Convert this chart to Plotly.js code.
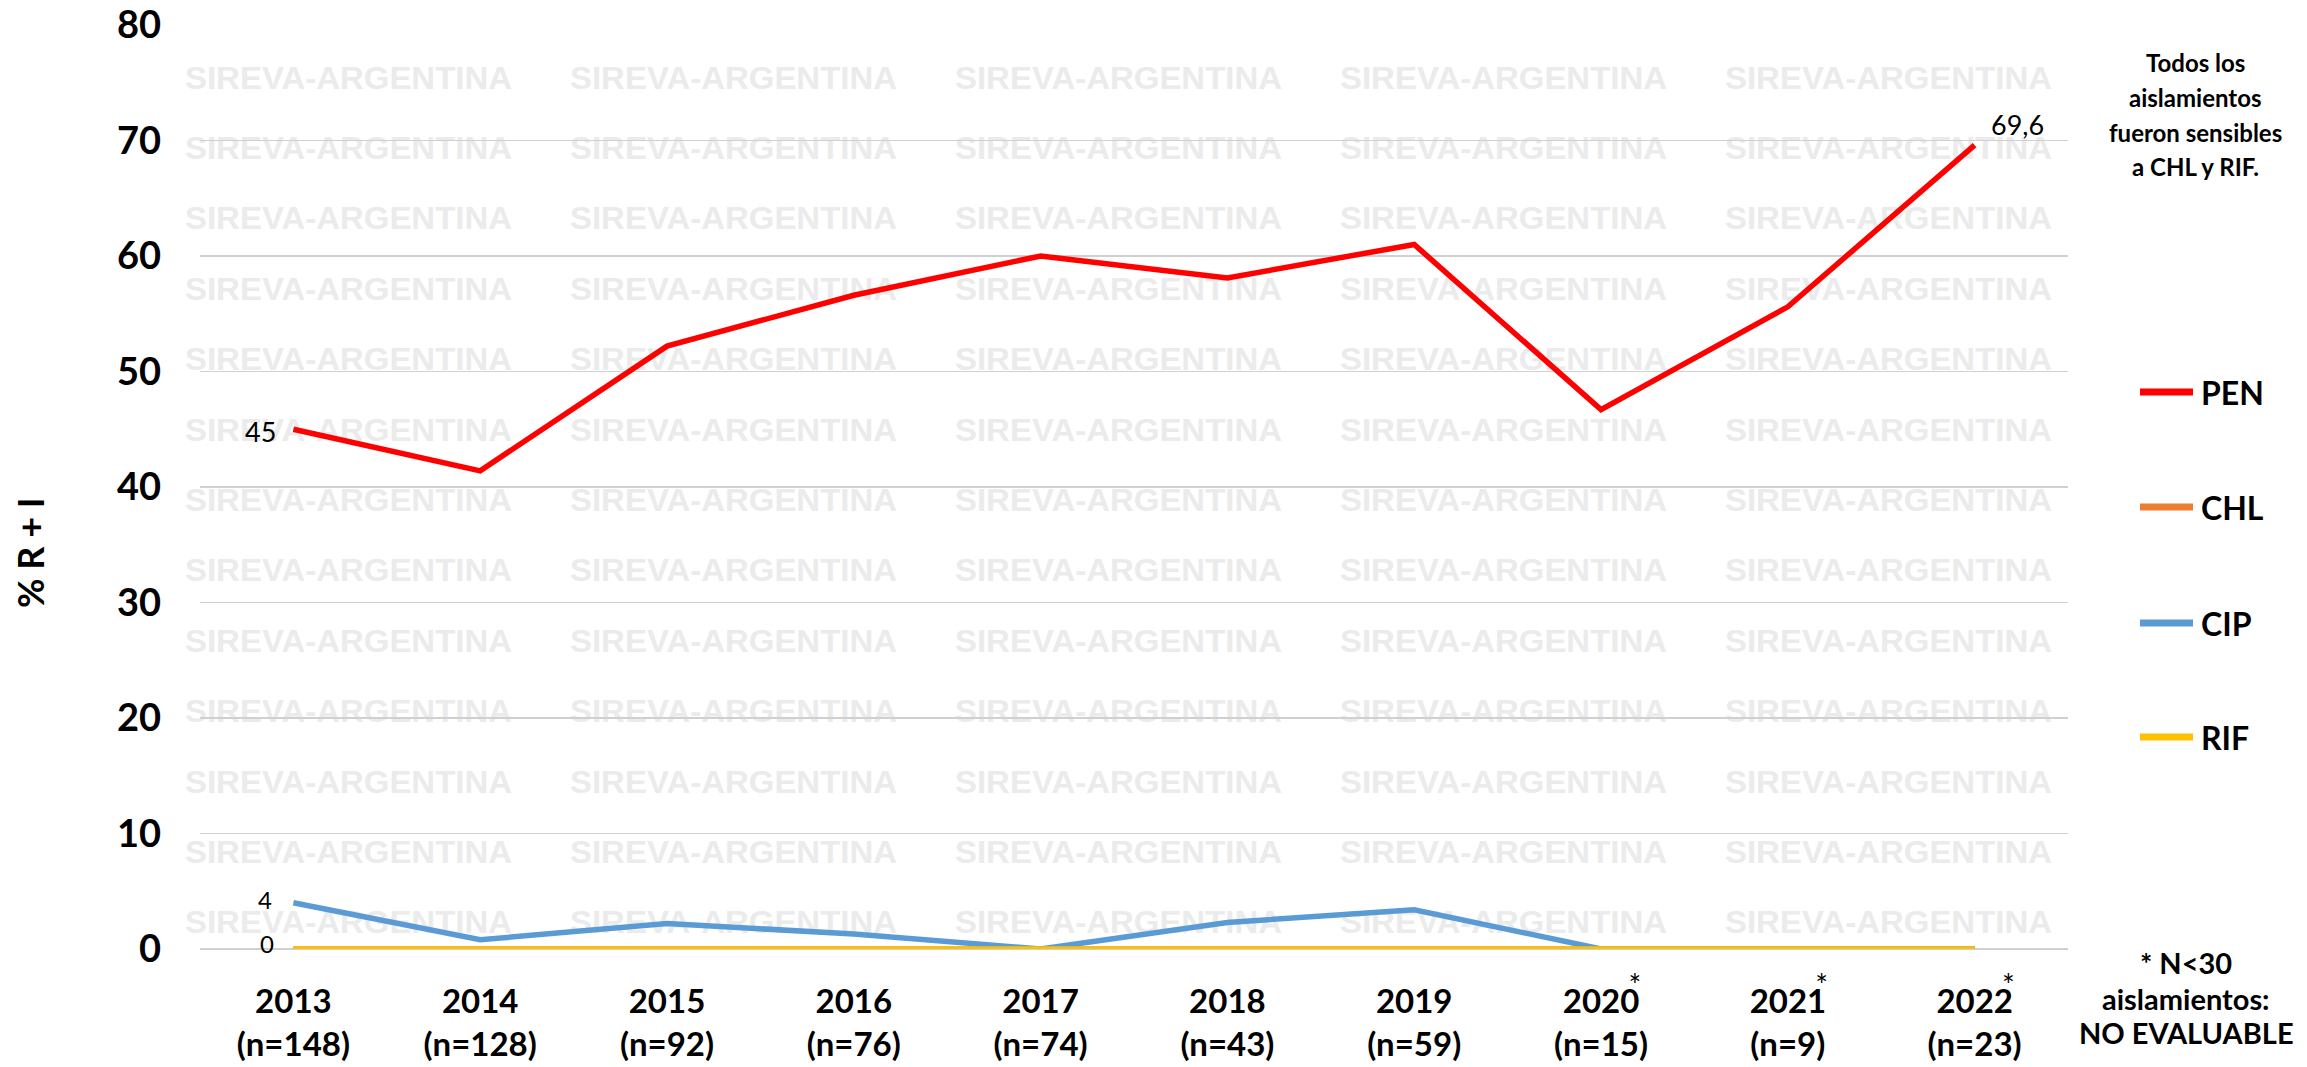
<!DOCTYPE html>
<html>
<head>
<meta charset="utf-8">
<script src="https://cdn.plot.ly/plotly-3.0.1.min.js"></script>
<style>
  html, body { margin: 0; padding: 0; background: #ffffff; }
  #chart { width: 2307px; height: 1067px; }
</style>
</head>
<body>
<div id="chart"></div>
<script>
// ---------------- DATA ----------------
const years = ['2013', '2014', '2015', '2016', '2017', '2018', '2019', '2020', '2021', '2022'];
const nIsolates = [148, 128, 92, 76, 74, 43, 59, 15, 9, 23];
const seriesNames = ['PEN', 'CHL', 'CIP', 'RIF'];
const PEN = [45, 41.4, 52.2, 56.6, 60.0, 58.1, 61.0, 46.7, 55.6, 69.6];
const CHL = [0, 0, 0, 0, 0, 0, 0, 0, 0, 0];
const CIP = [4, 0.8, 2.2, 1.3, 0, 2.3, 3.4, 0, 0, 0];
const RIF = [0, 0, 0, 0, 0, 0, 0, 0, 0, 0];
const yTicks = [0, 10, 20, 30, 40, 50, 60, 70, 80];
const yTitle = '% R + I';
const noteLines = ['Todos los', 'aislamientos', 'fueron sensibles', 'a CHL y RIF.'];
const footLines = ['* N<30', 'aislamientos:', 'NO EVALUABLE'];
const watermarkText = 'SIREVA-ARGENTINA';
const minN = 30;

// ---------------- STYLE / LAYOUT ----------------
const W = 2307, H = 1067;
const M = { l: 200, r: 239, t: 25, b: 118 };
const plotW = W - M.l - M.r, plotH = H - M.t - M.b;
const px2x = p => (p - M.l) / plotW;
const px2y = p => (H - M.b - p) / plotH;
const colors = { PEN: '#ff0000', CHL: '#ed7d31', CIP: '#5b9bd5', RIF: '#ffc000' };
const seriesData = { PEN, CHL, CIP, RIF };
const FONT = 'Lato, "Open Sans", sans-serif';
const fmt = v => String(v).replace('.', ',');

const xIdx = years.map((_, i) => i);
// star for N<30: drawn as a raised asterisk right after the year, with letter-spacing
// tuned so the year itself stays centred on its category
const starYear = y => y.slice(0, -1) +
  '<span style="letter-spacing:-11px">' + y.slice(-1) + '</span>' +
  '<span style="font-size:30px;font-weight:normal;baseline-shift:17px;letter-spacing:-2px">*</span>';
const tickText = years.map((y, i) =>
  (nIsolates[i] < minN ? starYear(y) : y) + '<br>(n=' + nIsolates[i] + ')');

const traces = seriesNames.map(name => ({
  type: 'scatter',
  mode: 'lines',
  name: name,
  x: xIdx,
  y: seriesData[name],
  line: { color: colors[name], width: 5.5 },
  showlegend: false,
  hoverinfo: 'x+y+name'
}));

// watermark as an SVG layout image drawn beneath everything
let svg = '<svg xmlns="http://www.w3.org/2000/svg" width="' + W + '" height="' + H + '">';
for (let k = 0; k < 13; k++) {
  for (let j = 0; j < 5; j++) {
    svg += '<text x="' + (185 + 385 * j) + '" y="' + (88.5 + 70.4 * k).toFixed(1) +
      '" font-family="Liberation Sans, Arial, sans-serif" font-weight="bold" font-size="31" fill="#ebebeb" textLength="327" lengthAdjust="spacingAndGlyphs">' +
      watermarkText + '</text>';
  }
}
svg += '</svg>';

const annotations = [];
// data labels
annotations.push({ x: 0, y: PEN[0], xref: 'x', yref: 'y', text: fmt(PEN[0]), showarrow: false,
  xanchor: 'right', yanchor: 'middle', xshift: -15, yshift: -2, font: { family: FONT, size: 27, color: '#000' } });
annotations.push({ x: 9, y: PEN[9], xref: 'x', yref: 'y', text: fmt(PEN[9]), showarrow: false,
  xanchor: 'center', yanchor: 'middle', xshift: 43, yshift: 21, font: { family: FONT, size: 27, color: '#000' } });
annotations.push({ x: 0, y: CIP[0], xref: 'x', yref: 'y', text: fmt(CIP[0]), showarrow: false,
  xanchor: 'right', yanchor: 'middle', xshift: -19, yshift: 3, font: { family: FONT, size: 24, color: '#000' } });
annotations.push({ x: 0, y: RIF[0], xref: 'x', yref: 'y', text: fmt(RIF[0]), showarrow: false,
  xanchor: 'right', yanchor: 'middle', xshift: -17, yshift: 6, font: { family: FONT, size: 24, color: '#000' } });

// y-axis title
annotations.push({ x: px2x(30), y: px2y(553), xref: 'paper', yref: 'paper', text: yTitle, textangle: -90,
  showarrow: false, xanchor: 'center', yanchor: 'middle', font: { family: FONT, size: 36, weight: 'bold', color: '#000' } });

// note text
const noteY = [63, 98, 132, 166];
noteLines.forEach((t, i) => annotations.push({ x: px2x(2195), y: px2y(noteY[i]), xref: 'paper', yref: 'paper', text: t,
  showarrow: false, xanchor: 'center', yanchor: 'middle', font: { family: FONT, size: 24, weight: 'bold', color: '#000' } }));

// footnote
const footY = [962, 998, 1032];
footLines.forEach((t, i) => annotations.push({ x: px2x(2186), y: px2y(footY[i]), xref: 'paper', yref: 'paper', text: t.replace('<', '&lt;'),
  showarrow: false, xanchor: 'center', yanchor: 'middle', font: { family: FONT, size: 29, weight: 'bold', color: '#000' } }));

// custom legend
const legendY = [392, 507, 623, 737];
const shapes = [];
seriesNames.forEach((name, i) => {
  shapes.push({ type: 'line', xref: 'paper', yref: 'paper', x0: px2x(2140), x1: px2x(2193), y0: px2y(legendY[i]), y1: px2y(legendY[i]),
    line: { color: colors[name], width: 7 } });
  annotations.push({ x: px2x(2199), y: px2y(legendY[i]), xref: 'paper', yref: 'paper', text: name, showarrow: false,
    xanchor: 'left', yanchor: 'middle', font: { family: FONT, size: 32, weight: 'bold', color: '#000' } });
});

const layout = {
  width: W, height: H,
  margin: M,
  paper_bgcolor: '#ffffff',
  plot_bgcolor: 'rgba(0,0,0,0)',
  showlegend: false,
  xaxis: {
    type: 'linear',
    range: [-0.5, 9.5],
    tickmode: 'array',
    tickvals: xIdx,
    ticktext: tickText,
    showgrid: false,
    zeroline: false,
    showline: false,
    ticks: '',
    ticklabelstandoff: 30,
    tickfont: { family: FONT, size: 33, weight: 'bold', color: '#000' },
    fixedrange: true
  },
  yaxis: {
    range: [0, 80],
    tickmode: 'array',
    tickvals: yTicks,
    ticktext: yTicks.map(String),
    showgrid: true,
    gridcolor: '#d0d0d0',
    gridwidth: 1.5,
    zeroline: true,
    zerolinecolor: '#d0d0d0',
    zerolinewidth: 1.5,
    showline: false,
    ticks: '',
    ticklabelstandoff: 38,
    tickfont: { family: FONT, size: 38, weight: 'bold', color: '#000' },
    fixedrange: true
  },
  images: [{
    source: 'data:image/svg+xml;charset=utf-8,' + encodeURIComponent(svg),
    xref: 'paper', yref: 'paper',
    x: px2x(0), y: px2y(0),
    sizex: W / plotW, sizey: H / plotH,
    xanchor: 'left', yanchor: 'top',
    sizing: 'stretch',
    layer: 'below'
  }],
  shapes: shapes,
  annotations: annotations
};

Plotly.newPlot('chart', traces, layout, { displayModeBar: false, staticPlot: true });
</script>
</body>
</html>
